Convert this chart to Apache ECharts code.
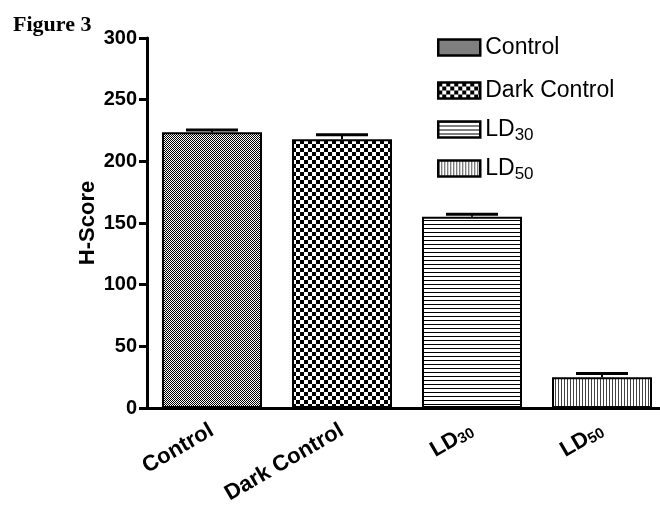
<!DOCTYPE html>
<html>
<head>
<meta charset="utf-8">
<script src="https://cdn.jsdelivr.net/npm/echarts@6/dist/echarts.min.js"></script>
<style>
html,body{margin:0;padding:0;background:#fff;}
#chart{width:660px;height:505px;}
</style>
</head>
<body>
<div id="chart"></div>
<script>
// ---- data ----
const categories = ['Control', 'Dark Control', 'LD30', 'LD50'];
const values = [223.5, 218, 155, 25];
const errors = [2, 3.5, 2, 3];
const yTicks = [0, 50, 100, 150, 200, 250, 300];

// ---- fill patterns ----
function makePattern(kind) {
  const c = document.createElement('canvas');
  let ctx;
  if (kind === 'fine') {
    c.width = 2; c.height = 2; ctx = c.getContext('2d');
    ctx.fillStyle = '#fff'; ctx.fillRect(0, 0, 2, 2);
    ctx.fillStyle = '#000'; ctx.fillRect(0, 0, 1, 1); ctx.fillRect(1, 1, 1, 1);
  } else if (kind === 'checker') {
    c.width = 8; c.height = 8; ctx = c.getContext('2d');
    ctx.fillStyle = '#fff'; ctx.fillRect(0, 0, 8, 8);
    ctx.fillStyle = '#000'; ctx.fillRect(0, 0, 4, 4); ctx.fillRect(4, 4, 4, 4);
  } else if (kind === 'hlines') {
    c.width = 4; c.height = 4; ctx = c.getContext('2d');
    ctx.fillStyle = '#fff'; ctx.fillRect(0, 0, 4, 4);
    ctx.fillStyle = '#000'; ctx.fillRect(0, 0, 4, 1);
  } else {
    c.width = 3; c.height = 3; ctx = c.getContext('2d');
    ctx.fillStyle = '#fff'; ctx.fillRect(0, 0, 3, 3);
    ctx.fillStyle = '#444'; ctx.fillRect(0, 0, 1, 3);
  }
  return { image: c, repeat: 'repeat' };
}
const patterns = [makePattern('fine'), makePattern('checker'), makePattern('hlines'), makePattern('vlines')];

const FONT = '"Liberation Sans", Arial, sans-serif';
const subFmt = (s) => /^LD\d+$/.test(s) ? 'LD{sub|' + s.slice(2) + '}' : s;

const barSeries = categories.map((name, i) => ({
  type: 'bar',
  name: name,
  barWidth: 100,
  barGap: '-100%',
  data: categories.map((c, j) => (j === i ? values[j] : null)),
  itemStyle: { color: patterns[i], borderColor: '#000', borderWidth: 2 },
  emphasis: { disabled: true },
  z: 2
}));

const errSeries = {
  type: 'custom',
  name: 'err',
  data: categories.map((c, i) => [i, values[i], errors[i]]),
  renderItem: function (params, api) {
    const x = api.value(0), v = api.value(1), e = api.value(2);
    const p0 = api.coord([x, v]);
    const p1 = api.coord([x, v + e]);
    const hw = 26;
    return {
      type: 'group',
      children: [
        { type: 'line', shape: { x1: p0[0], y1: p0[1], x2: p1[0], y2: p1[1] }, style: { stroke: '#000', lineWidth: 2 } },
        { type: 'line', shape: { x1: p1[0] - hw, y1: p1[1], x2: p1[0] + hw, y2: p1[1] }, style: { stroke: '#000', lineWidth: 3 } }
      ]
    };
  },
  z: 5
};

const legendTops = [36, 79, 118, 157];
const legends = categories.map((name, i) => ({
  data: [name],
  left: 437,
  top: legendTops[i],
  padding: 0,
  orient: 'vertical',
  icon: 'rect',
  itemWidth: 42,
  itemHeight: 16,
  selectedMode: false,
  formatter: subFmt,
  itemStyle: { borderColor: '#000', borderWidth: 2.5 },
  textStyle: {
    fontFamily: FONT, fontSize: 23, color: '#000',
    rich: { sub: { fontFamily: FONT, fontSize: 17, color: '#000', padding: [11, 0, 0, 0] } }
  }
}));

const option = {
  animation: false,
  backgroundColor: '#fff',
  title: {
    text: 'Figure 3',
    left: 8, top: 9,
    textStyle: { fontFamily: '"Liberation Serif", "Times New Roman", serif', fontWeight: 'bold', fontSize: 22, color: '#000' }
  },
  legend: legends,
  grid: { left: 147, top: 38, width: 520, bottom: 97, containLabel: false, outerBoundsMode: 'none' },
  xAxis: {
    type: 'category',
    data: categories,
    boundaryGap: true,
    axisLine: { lineStyle: { color: '#000', width: 3 } },
    axisTick: { show: false },
    axisLabel: {
      rotate: 30,
      margin: 21,
      interval: 0,
      fontFamily: FONT, fontWeight: 'bold', fontSize: 22, color: '#000',
      formatter: subFmt,
      rich: { sub: { fontFamily: FONT, fontWeight: 'bold', fontSize: 15, color: '#000', padding: [7, 0, 0, 0] } }
    }
  },
  yAxis: {
    type: 'value',
    min: yTicks[0], max: yTicks[yTicks.length - 1], interval: 50,
    name: 'H-Score',
    nameLocation: 'middle',
    nameGap: 48,
    nameMoveOverlap: false,
    nameTextStyle: { fontFamily: FONT, fontWeight: 'bold', fontSize: 22, color: '#000' },
    splitLine: { show: false },
    axisLine: { show: true, lineStyle: { color: '#000', width: 3 } },
    axisTick: { show: true, length: 8, lineStyle: { color: '#000', width: 3 } },
    axisLabel: { margin: 10, fontFamily: FONT, fontWeight: 'bold', fontSize: 20, color: '#000' }
  },
  series: barSeries.concat([errSeries])
};

const chart = echarts.init(document.getElementById('chart'), null, { renderer: 'canvas' });
chart.setOption(option);
</script>
</body>
</html>
